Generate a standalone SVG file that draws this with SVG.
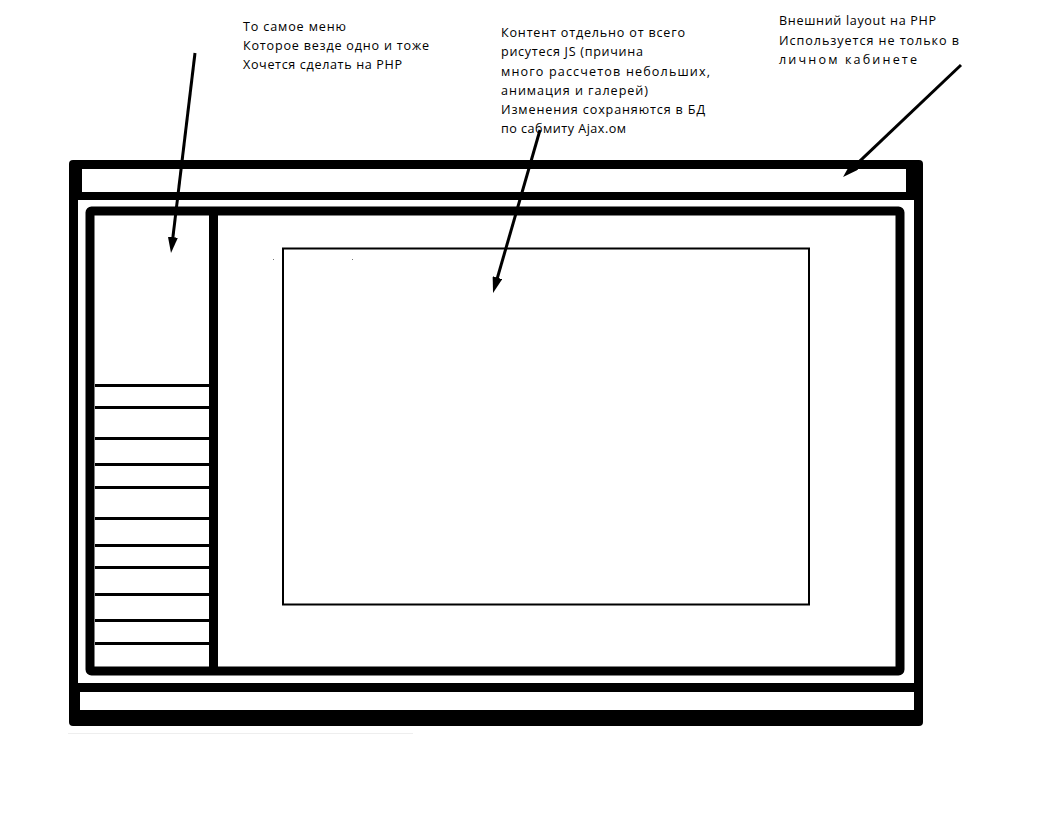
<svg xmlns="http://www.w3.org/2000/svg" width="1042" height="818" viewBox="0 0 1042 818">
<style>
  .t { font-family: "Open Sans", "Liberation Sans", sans-serif; font-size: 12.6px; fill: #000; }
  .blk { fill: #000; }
  .wht { fill: #fff; }
  .menu { fill: #000; }
  .arrow { stroke: #000; stroke-width: 3; fill: none; marker-end: url(#ah); }
</style>
<defs>
  <marker id="ah" viewBox="0 0 16 10" refX="6" refY="5" markerWidth="16" markerHeight="10" markerUnits="userSpaceOnUse" orient="auto">
    <path d="M0,0 L16,5 L0,10 z" fill="#000"/>
  </marker>
</defs>
<rect x="0" y="0" width="1042" height="818" fill="#fff"/>

<g id="outer-layout">
  <rect class="blk" x="69" y="160" width="854" height="566" rx="4"/>
  <rect class="wht" x="82" y="169" width="824" height="23"/>
  <rect class="wht" x="78" y="200" width="836" height="483"/>
  <rect class="wht" x="80" y="692" width="834" height="18"/>
</g>

<g id="inner-frame">
  <rect x="90" y="211" width="810" height="460" rx="1.5" fill="#fff" stroke="#000" stroke-width="9"/>
  <rect class="blk" x="209" y="213" width="9" height="456"/>
</g>

<g id="menu">
  <rect class="menu" x="95" y="384" width="114" height="3"/>
  <rect class="menu" x="95" y="406" width="114" height="3"/>
  <rect class="menu" x="95" y="437" width="114" height="3"/>
  <rect class="menu" x="95" y="463" width="114" height="3"/>
  <rect class="menu" x="95" y="486" width="114" height="3"/>
  <rect class="menu" x="95" y="517" width="114" height="3"/>
  <rect class="menu" x="95" y="544" width="114" height="3"/>
  <rect class="menu" x="95" y="566" width="114" height="3"/>
  <rect class="menu" x="95" y="593" width="114" height="3"/>
  <rect class="menu" x="95" y="619" width="114" height="3"/>
  <rect class="menu" x="95" y="642" width="114" height="3"/>
</g>

<g id="content">
  <rect x="283" y="248.5" width="526" height="356" fill="#fff" stroke="#000" stroke-width="2"/>
  <rect x="273" y="259" width="1" height="1" fill="#777"/>
  <rect x="352" y="259" width="1" height="1" fill="#777"/>
</g>

<rect x="68" y="733" width="345" height="1" fill="#eeeeee"/>

<g id="label-menu">
  <text class="t" x="243" y="31" textLength="103" lengthAdjust="spacing">То самое меню</text>
  <text class="t" x="243" y="50" textLength="186" lengthAdjust="spacing">Которое везде одно и тоже</text>
  <text class="t" x="243" y="69" textLength="159" lengthAdjust="spacing">Хочется сделать на PHP</text>
</g>

<g id="label-content">
  <text class="t" x="501" y="37" textLength="184" lengthAdjust="spacing">Контент отдельно от всего</text>
  <text class="t" x="501" y="56" textLength="142" lengthAdjust="spacing">рисутеся JS (причина</text>
  <text class="t" x="501" y="76" textLength="209" lengthAdjust="spacing">много рассчетов небольших,</text>
  <text class="t" x="501" y="95" textLength="147" lengthAdjust="spacing">анимация и галерей)</text>
  <text class="t" x="501" y="114" textLength="204" lengthAdjust="spacing">Изменения сохраняются в БД</text>
  <text class="t" x="501" y="133" textLength="125" lengthAdjust="spacing">по сабмиту Ajax.ом</text>
</g>

<g id="label-layout">
  <text class="t" x="779" y="25" textLength="157" lengthAdjust="spacing">Внешний layout на PHP</text>
  <text class="t" x="779" y="45" textLength="180" lengthAdjust="spacing">Используется не только в</text>
  <text class="t" x="779" y="64" textLength="138" lengthAdjust="spacing">личном кабинете</text>
</g>

<g id="connectors">
  <line class="arrow" x1="195" y1="53" x2="172.2" y2="243.1"/>
  <line class="arrow" x1="540" y1="130" x2="495.8" y2="283.4"/>
  <line class="arrow" x1="961" y1="65" x2="850.3" y2="170.1"/>
</g>
</svg>
